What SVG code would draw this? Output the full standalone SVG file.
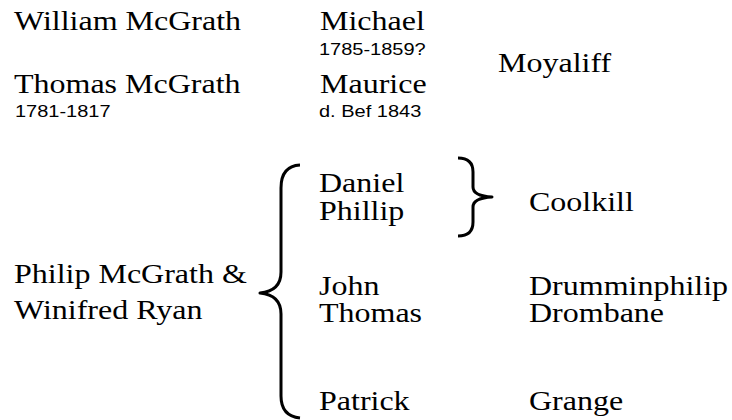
<svg xmlns="http://www.w3.org/2000/svg" width="732" height="420" viewBox="0 0 732 420">
<style>
.n{font-family:"Liberation Serif","Times New Roman",serif;font-size:32px;fill:#000}
.s{font-family:"Liberation Sans",Arial,sans-serif;font-size:20px;fill:#000}
.b{fill:none;stroke:#000;stroke-width:3;stroke-linecap:butt;stroke-linejoin:round}
</style>
<rect width="732" height="420" fill="#fff"/>
<g id="william"><text class="n" transform="translate(14,30) scale(1,0.87)">William McGrath</text></g>
<g id="thomas-sr"><text class="n" transform="translate(14,93) scale(1,0.87)">Thomas McGrath</text><text class="s" transform="translate(15,117) scale(1,0.87)">1781-1817</text></g>
<g id="michael"><text class="n" transform="translate(320,30) scale(1,0.87)">Michael</text><text class="s" transform="translate(319,55) scale(1,0.87)">1785-1859?</text></g>
<g id="maurice"><text class="n" transform="translate(320,93) scale(1,0.87)">Maurice</text><text class="s" transform="translate(319,117) scale(1,0.87)">d. Bef 1843</text></g>
<g id="moyaliff"><text class="n" transform="translate(498,72) scale(1,0.87)">Moyaliff</text></g>
<g id="parents"><text class="n" transform="translate(14,283) scale(1,0.87)">Philip McGrath &amp;</text><text class="n" transform="translate(14,319) scale(1,0.87)">Winifred Ryan</text></g>
<g id="daniel"><text class="n" transform="translate(319,192) scale(1,0.87)">Daniel</text></g>
<g id="phillip"><text class="n" transform="translate(319,220) scale(1,0.87)">Phillip</text></g>
<g id="john"><text class="n" transform="translate(319,295) scale(1,0.87)">John</text></g>
<g id="thomas"><text class="n" transform="translate(319,322) scale(1,0.87)">Thomas</text></g>
<g id="patrick"><text class="n" transform="translate(319,410) scale(1,0.87)">Patrick</text></g>
<g id="coolkill"><text class="n" transform="translate(529,211) scale(1,0.87)">Coolkill</text></g>
<g id="drumminphilip"><text class="n" transform="translate(529,295) scale(1,0.87)">Drumminphilip</text></g>
<g id="drombane"><text class="n" transform="translate(529,322) scale(1,0.87)">Drombane</text></g>
<g id="grange"><text class="n" transform="translate(529,410) scale(1,0.87)">Grange</text></g>
<g id="connectors">
<path class="b" d="M300,165 Q281,166 281,188 L281,272 Q281,291 260,293 Q281,295 281,314 L281,396 Q281,416 300,418"/>
<path class="b" d="M458,158 Q473,158 473,172 L473,187 Q473,196 492,197 Q473,198 473,207 L473,222 Q473,236 458,236"/>
</g>
</svg>
